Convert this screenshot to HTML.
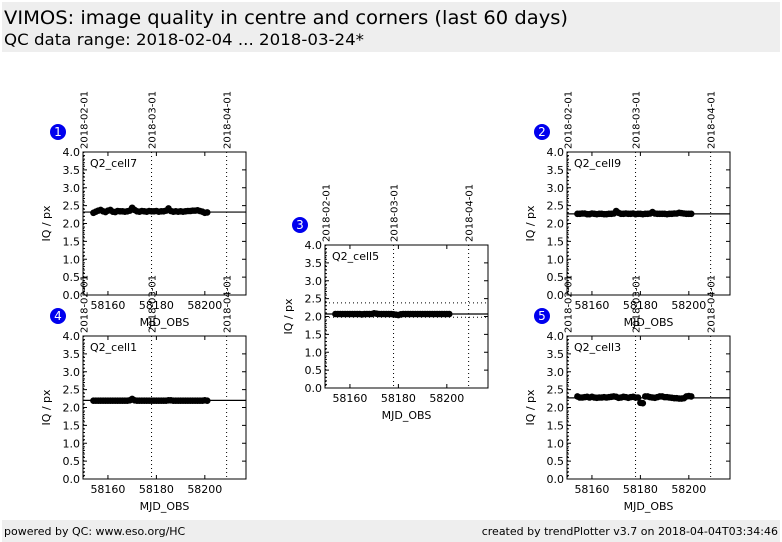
<!DOCTYPE html>
<html><head><meta charset="utf-8"><style>
body{margin:0;background:#fff;}
svg{display:block;font-family:"DejaVu Sans","Liberation Sans",sans-serif;}
</style></head><body>
<svg id="chart" width="782" height="542" viewBox="0 0 782 542">
<rect x="2" y="2" width="778" height="50" fill="#eeeeee"/>
<text x="4" y="24" font-size="19" textLength="564" lengthAdjust="spacingAndGlyphs">VIMOS: image quality in centre and corners (last 60 days)</text>
<text x="4" y="45" font-size="16" textLength="360" lengthAdjust="spacingAndGlyphs">QC data range: 2018-02-04 ... 2018-03-24*</text>
<rect x="2" y="520" width="778" height="22" fill="#eeeeee"/>
<text x="4" y="535" font-size="11">powered by QC: www.eso.org/HC</text>
<text x="778" y="535" font-size="11" text-anchor="end">created by trendPlotter v3.7 on 2018-04-04T03:34:46</text>
<g id="plots"></g>
</svg>
<script>
const days = [58154,58155,58156,58157,58158,58159,58160,58161,58162,58163,58164,58165,58166,58167,58168,58169,58170,58171,58172,58173,58174,58175,58176,58177,58178,58179,58180,58181,58182,58183,58184,58185,58186,58187,58188,58189,58190,58191,58192,58193,58194,58195,58196,58197,58198,58199,58200,58201];
const cell7 = [2.30,2.33,2.36,2.38,2.34,2.32,2.36,2.38,2.33,2.32,2.35,2.34,2.34,2.33,2.34,2.36,2.44,2.38,2.34,2.33,2.35,2.34,2.33,2.35,2.34,2.34,2.35,2.33,2.34,2.34,2.36,2.42,2.35,2.33,2.34,2.33,2.34,2.33,2.34,2.35,2.35,2.36,2.36,2.37,2.35,2.33,2.30,2.31];
const cell9 = [2.27,2.27,2.28,2.28,2.26,2.26,2.28,2.27,2.26,2.27,2.27,2.26,2.26,2.27,2.27,2.28,2.35,2.30,2.27,2.27,2.28,2.27,2.27,2.28,2.26,2.27,2.27,2.26,2.27,2.27,2.28,2.32,2.28,2.27,2.27,2.27,2.27,2.26,2.27,2.27,2.28,2.28,2.30,2.29,2.28,2.27,2.27,2.27];
const cell5 = [2.07,2.07,2.07,2.07,2.07,2.07,2.07,2.07,2.07,2.07,2.07,2.06,2.07,2.07,2.07,2.07,2.09,2.08,2.07,2.07,2.07,2.07,2.07,2.07,2.06,2.05,2.04,2.06,2.07,2.07,2.07,2.07,2.07,2.07,2.07,2.07,2.07,2.07,2.07,2.07,2.07,2.07,2.07,2.07,2.07,2.07,2.07,2.07];
const cell1 = [2.19,2.19,2.19,2.19,2.19,2.19,2.19,2.19,2.19,2.19,2.19,2.19,2.19,2.19,2.19,2.20,2.24,2.20,2.19,2.19,2.19,2.19,2.19,2.19,2.19,2.19,2.19,2.19,2.19,2.19,2.19,2.20,2.20,2.19,2.19,2.19,2.19,2.19,2.19,2.19,2.19,2.19,2.19,2.19,2.19,2.19,2.20,2.19];
const cell3 = [2.31,2.28,2.28,2.29,2.30,2.28,2.30,2.28,2.27,2.28,2.28,2.29,2.28,2.29,2.30,2.31,2.30,2.27,2.28,2.30,2.29,2.27,2.29,2.30,2.28,2.28,2.13,2.12,2.31,2.31,2.29,2.28,2.27,2.29,2.31,2.31,2.29,2.29,2.28,2.27,2.26,2.26,2.25,2.25,2.26,2.31,2.32,2.31];
const refs = {cell7:[2.32],cell9:[2.27],cell5:[2.07],cell1:[2.20],cell3:[2.27]};
const xTicks = [58160,58180,58200];
const yTicks = [0,0.5,1,1.5,2,2.5,3,3.5,4];
const dateTicks = [58150,58178,58209];
const dateLabels = ["2018-02-01","2018-03-01","2018-04-01"];
const panels = [
 {n:1,name:"Q2_cell7",data:cell7,ref:2.32,lim:null,x:83,y:152},
 {n:2,name:"Q2_cell9",data:cell9,ref:2.27,lim:null,x:567,y:152},
 {n:3,name:"Q2_cell5",data:cell5,ref:2.07,lim:[1.98,2.38],x:325,y:245},
 {n:4,name:"Q2_cell1",data:cell1,ref:2.20,lim:null,x:83,y:336},
 {n:5,name:"Q2_cell3",data:cell3,ref:2.27,lim:null,x:567,y:336}
];
const NS="http://www.w3.org/2000/svg";
const root=document.getElementById('plots');
function mk(tag,attrs,parent){const e=document.createElementNS(NS,tag);for(const k in attrs)e.setAttribute(k,attrs[k]);(parent||root).appendChild(e);return e;}
const W=163,H=143,X0=58149.7,X1=58217;
panels.forEach(p=>{
 const g=mk('g',{});
 
 
 const sx=v=>p.x+(v-X0)/(X1-X0)*W;
 const sy=v=>p.y+H-v/4*H;
 // date vlines
 dateTicks.forEach((d,i)=>{
  const l=mk('line',{x1:sx(d),x2:sx(d),y1:p.y,y2:p.y+H,stroke:'#000','stroke-width':1,'stroke-dasharray':'1,3'},g);
  
  
  const t=mk('text',{x:0,y:0,'font-size':10,transform:`translate(${sx(d)+4},${p.y-3}) rotate(-90)`},g);
  t.textContent=dateLabels[i];
  
  
 });
 if(p.lim){p.lim.forEach(v=>{
  const l=mk('line',{x1:p.x,x2:p.x+W,y1:sy(v),y2:sy(v),stroke:'#000','stroke-width':1,'stroke-dasharray':'1,3'},g);
  
  
 });}
 const rl=mk('line',{x1:p.x,x2:p.x+W,y1:sy(p.ref),y2:sy(p.ref),stroke:'#000','stroke-width':1.2},g);
 
 
 p.data.forEach((v,i)=>{
  const c=mk('circle',{cx:sx(days[i]),cy:sy(v),r:3.3,fill:'#000'},g);
  
  
 });
 const fr=mk('rect',{x:p.x,y:p.y,width:W,height:H,fill:'none',stroke:'#000','stroke-width':1},g);
 
 
 xTicks.forEach(v=>{
  mk('line',{x1:sx(v),x2:sx(v),y1:p.y+H,y2:p.y+H-4,stroke:'#000'},g);
  mk('line',{x1:sx(v),x2:sx(v),y1:p.y,y2:p.y+4,stroke:'#000'},g);
  const t=mk('text',{x:sx(v),y:p.y+H+14,'font-size':11,'text-anchor':'middle'},g);
  t.textContent=v;
  
  
 });
 for(let k=1;k<40;k++){const v=k/10;if(k%5)mk('line',{x1:p.x,x2:p.x+2,y1:sy(v),y2:sy(v),stroke:'#000'},g);}
 yTicks.forEach(v=>{
  mk('line',{x1:p.x,x2:p.x+4,y1:sy(v),y2:sy(v),stroke:'#000'},g);
  mk('line',{x1:p.x+W,x2:p.x+W-4,y1:sy(v),y2:sy(v),stroke:'#000'},g);
  const t=mk('text',{x:p.x-3,y:sy(v)+4,'font-size':11,'text-anchor':'end'},g);
  t.textContent=v.toFixed(1);
  
  
 });
 const xt=mk('text',{x:p.x+W/2,y:p.y+H+31,'font-size':11,'text-anchor':'middle'},g);
 xt.textContent='MJD_OBS';
 
 
 const yt=mk('text',{x:0,y:0,'font-size':11,'text-anchor':'middle',transform:`translate(${p.x-33},${p.y+H/2}) rotate(-90)`},g);
 yt.textContent='IQ / px';
 
 
 const lb=mk('text',{x:p.x+7,y:p.y+15,'font-size':11},g);
 lb.textContent=p.name;
 
 
 const bc=mk('circle',{cx:p.x-25,cy:p.y-20,r:8,fill:'#0000ee'},g);
 
 
 const bt=mk('text',{x:p.x-25,y:p.y-16,'font-size':12,fill:'#fff','text-anchor':'middle'},g);
 bt.textContent=p.n;
 
 
});
</script>
</body></html>
